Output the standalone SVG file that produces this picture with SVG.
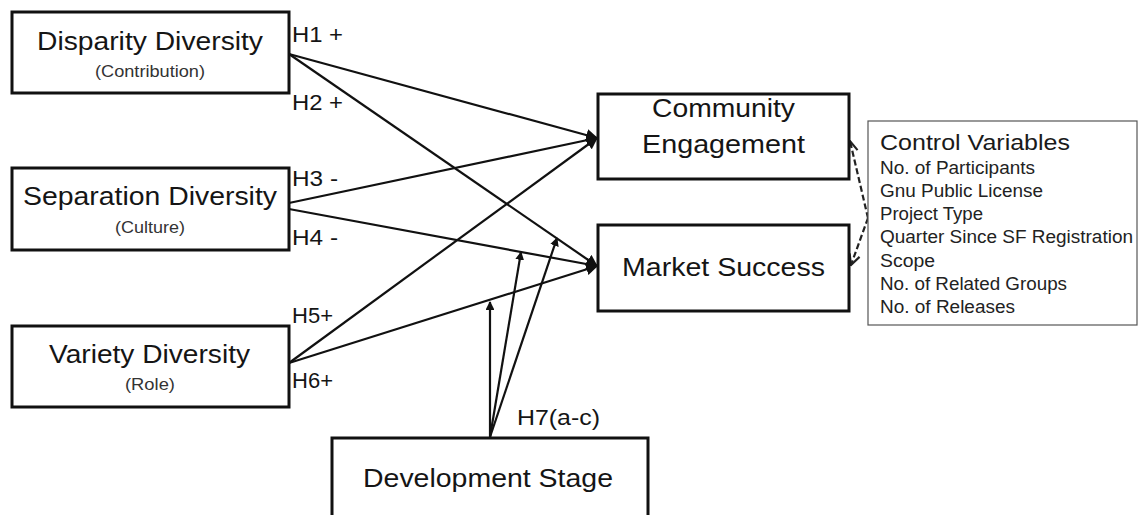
<svg xmlns="http://www.w3.org/2000/svg" width="1138" height="515" viewBox="0 0 1138 515">
  <defs>
    <style>
      .box { fill: #ffffff; stroke: #111111; stroke-width: 3; }
      .ctl { fill: #ffffff; stroke: #555555; stroke-width: 1.2; }
      .t { font-family: "Liberation Sans", Arial, sans-serif; fill: #151515; }
      .main { font-size: 26px; }
      .sub { font-size: 16.5px; fill: #333333; }
      .lab { font-size: 22px; }
      .cv { font-size: 17.5px; fill: #222222; }
      .cvh { font-size: 22px; fill: #1a1a1a; }
      .edge { stroke: #111111; stroke-width: 2.2; fill: none; }
      .dash { stroke: #222222; stroke-width: 2.2; fill: none; stroke-dasharray: 6 3; }
    </style>
    <marker id="arrow" viewBox="0 0 10 10" refX="9" refY="5" markerWidth="5.5" markerHeight="5.5" orient="auto" markerUnits="strokeWidth">
      <path d="M0,0 L10,5 L0,10 z" fill="#111111"/>
    </marker>
    <marker id="arrowSmall" viewBox="0 0 10 10" refX="9" refY="5" markerWidth="4" markerHeight="4" orient="auto" markerUnits="strokeWidth">
      <path d="M0,0 L10,5 L0,10 z" fill="#111111"/>
    </marker>
    <marker id="open" viewBox="0 0 10 10" refX="9" refY="5" markerWidth="6" markerHeight="6" orient="auto" markerUnits="strokeWidth">
      <path d="M1,1 L9,5 L1,9" fill="none" stroke="#222222" stroke-width="1.6"/>
    </marker>
  </defs>

  <rect width="1138" height="515" fill="#ffffff"/>

  <!-- connectors -->
  <g id="connectors">
    <line class="edge" x1="289" y1="54" x2="597" y2="138" marker-end="url(#arrow)"/>
    <line class="edge" x1="289" y1="54" x2="597" y2="266" marker-end="url(#arrow)"/>
    <line class="edge" x1="270" y1="207" x2="597" y2="138" marker-end="url(#arrow)"/>
    <line class="edge" x1="289" y1="209" x2="597" y2="266" marker-end="url(#arrow)"/>
    <line class="edge" x1="289" y1="363" x2="597" y2="138" marker-end="url(#arrow)"/>
    <line class="edge" x1="289" y1="363" x2="597" y2="266" marker-end="url(#arrow)"/>
    <line class="edge" x1="490" y1="437" x2="490" y2="302" marker-end="url(#arrowSmall)"/>
    <line class="edge" x1="490" y1="437" x2="521" y2="252" marker-end="url(#arrowSmall)"/>
    <line class="edge" x1="490" y1="437" x2="557" y2="238" marker-end="url(#arrowSmall)"/>
    <line class="dash" x1="868" y1="218" x2="850" y2="141" marker-end="url(#open)"/>
    <line class="dash" x1="868" y1="218" x2="851" y2="265" marker-end="url(#open)"/>
  </g>

  <!-- hypothesis labels -->
  <g id="labels" class="t lab">
    <text x="292" y="42" textLength="51" lengthAdjust="spacingAndGlyphs">H1 +</text>
    <text x="292" y="110" textLength="51" lengthAdjust="spacingAndGlyphs">H2 +</text>
    <text x="292" y="186" textLength="46" lengthAdjust="spacingAndGlyphs">H3 -</text>
    <text x="292" y="245" textLength="46" lengthAdjust="spacingAndGlyphs">H4 -</text>
    <text x="292" y="323" textLength="41" lengthAdjust="spacingAndGlyphs">H5+</text>
    <text x="292" y="388" textLength="41" lengthAdjust="spacingAndGlyphs">H6+</text>
    <text x="517" y="425" textLength="83" lengthAdjust="spacingAndGlyphs">H7(a-c)</text>
  </g>

  <g id="disparity">
    <rect class="box" x="12" y="12" width="277" height="81"/>
    <text class="t main" x="37" y="50" textLength="226" lengthAdjust="spacingAndGlyphs">Disparity Diversity</text>
    <text class="t sub" x="95" y="77" textLength="110" lengthAdjust="spacingAndGlyphs">(Contribution)</text>
  </g>

  <g id="separation">
    <rect class="box" x="12" y="168" width="277" height="82"/>
    <text class="t main" x="23" y="205" textLength="254" lengthAdjust="spacingAndGlyphs">Separation Diversity</text>
    <text class="t sub" x="115" y="233" textLength="70" lengthAdjust="spacingAndGlyphs">(Culture)</text>
  </g>

  <g id="variety">
    <rect class="box" x="12" y="326" width="277" height="81"/>
    <text class="t main" x="49" y="363" textLength="201" lengthAdjust="spacingAndGlyphs">Variety Diversity</text>
    <text class="t sub" x="125" y="390" textLength="50" lengthAdjust="spacingAndGlyphs">(Role)</text>
  </g>

  <g id="community">
    <rect class="box" x="598" y="94" width="251" height="85"/>
    <text class="t main" x="652" y="117" textLength="143" lengthAdjust="spacingAndGlyphs">Community</text>
    <text class="t main" x="642" y="153" textLength="163" lengthAdjust="spacingAndGlyphs">Engagement</text>
  </g>

  <g id="market">
    <rect class="box" x="598" y="225" width="251" height="86"/>
    <text class="t main" x="622" y="276" textLength="203" lengthAdjust="spacingAndGlyphs">Market Success</text>
  </g>

  <g id="stage">
    <rect class="box" x="332" y="438" width="316" height="100"/>
    <text class="t main" x="363" y="487" textLength="250" lengthAdjust="spacingAndGlyphs">Development Stage</text>
  </g>

  <g id="controls">
    <rect class="ctl" x="868" y="121" width="269" height="204"/>
    <text class="t cvh" x="880" y="150" textLength="190" lengthAdjust="spacingAndGlyphs">Control Variables</text>
    <text class="t cv" x="880" y="174" textLength="155" lengthAdjust="spacingAndGlyphs">No. of Participants</text>
    <text class="t cv" x="880" y="197" textLength="163" lengthAdjust="spacingAndGlyphs">Gnu Public License</text>
    <text class="t cv" x="880" y="220" textLength="103" lengthAdjust="spacingAndGlyphs">Project Type</text>
    <text class="t cv" x="880" y="243" textLength="253" lengthAdjust="spacingAndGlyphs">Quarter Since SF Registration</text>
    <text class="t cv" x="880" y="267" textLength="55" lengthAdjust="spacingAndGlyphs">Scope</text>
    <text class="t cv" x="880" y="290" textLength="187" lengthAdjust="spacingAndGlyphs">No. of Related Groups</text>
    <text class="t cv" x="880" y="313" textLength="135" lengthAdjust="spacingAndGlyphs">No. of Releases</text>
  </g>
</svg>
